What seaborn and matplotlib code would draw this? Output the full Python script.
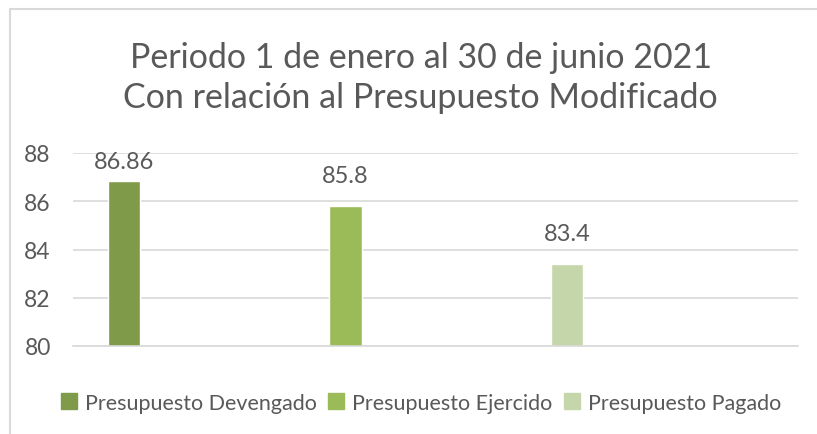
import matplotlib
matplotlib.use("Agg")
import matplotlib.pyplot as plt
import seaborn as sns
import pandas as pd
from matplotlib.lines import Line2D

# data
categories = ["Presupuesto Devengado", "Presupuesto Ejercido", "Presupuesto Pagado"]
values = [86.86, 85.8, 83.4]
labels = ["86.86", "85.8", "83.4"]
colors = ["#7F9A48", "#9BBB59", "#C5D7AA"]
y_ticks = [80, 82, 84, 86, 88]

df = pd.DataFrame({"serie": categories, "valor": values})

sns.set_style("white")
plt.rcParams["font.family"] = ["Lato", "DejaVu Sans"]
text_color = "#595959"

fig = plt.figure(figsize=(8.17, 4.35), dpi=100)
ax = fig.add_axes([73 / 817, 1 - 347 / 435, 725 / 817, 193 / 435])

sns.barplot(data=df, x="serie", y="valor", hue="serie", palette=colors,
            width=0.145, legend=False, ax=ax, saturation=1)

ax.set_ylim(80, 88)
ax.set_xlim(-0.23, 3.043)
ax.set_yticks(y_ticks)
ax.yaxis.grid(True, color="#D9D9D9", linewidth=1.2)
ax.set_axisbelow(True)
for s in ax.spines.values():
    s.set_visible(False)
ax.spines["bottom"].set_visible(True)
ax.spines["bottom"].set_color("#D9D9D9")
ax.spines["bottom"].set_linewidth(1.2)
ax.set_xticks([])
ax.set_xlabel("")
ax.set_ylabel("")
ax.tick_params(axis="y", length=0, pad=16, labelsize=16.5, labelcolor=text_color)

# data labels (Excel keeps them inside the plot area)
for i, (v, lab) in enumerate(zip(values, labels)):
    ax.text(i, min(v + 1.25, 87.65), lab, ha="center", va="center",
            fontsize=17, color=text_color, clip_on=False)

# title
fig.text(0.515, 1 - 78 / 435, "Periodo 1 de enero al 30 de junio 2021\nCon relación al Presupuesto Modificado",
         ha="center", va="center", fontsize=24.5, color=text_color, linespacing=1.3)

# legend
handles = [Line2D([0], [0], marker="s", linestyle="", markersize=11,
                  markerfacecolor=c, markeredgecolor=c) for c in colors]
fig.legend(handles, categories, loc="center", bbox_to_anchor=(0.515, 1 - 404 / 435),
           ncol=3, frameon=False, fontsize=15.5, labelcolor=text_color,
           handletextpad=0.35, columnspacing=0.5, handlelength=0.8)

# chart border (top and left visible)
fig.add_artist(Line2D([10 / 817, 1], [1 - 10 / 435, 1 - 10 / 435], color="#D9D9D9", linewidth=1.5))
fig.add_artist(Line2D([10 / 817, 10 / 817], [0, 1 - 10 / 435], color="#D9D9D9", linewidth=1.5))

fig.savefig("out.png", dpi=100, facecolor="white")
